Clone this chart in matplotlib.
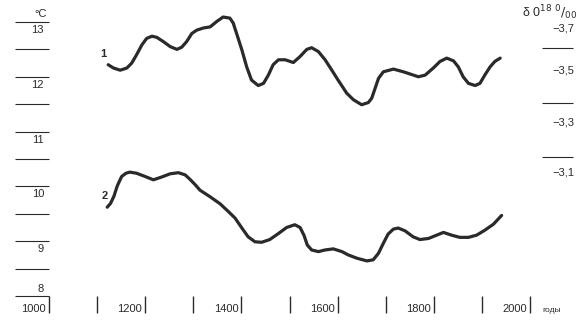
import matplotlib.pyplot as plt

# curve 1 (upper) and curve 2 (lower)
years1 = [1123, 1134, 1148, 1162, 1172, 1182, 1193, 1203, 1214, 1224, 1238, 1252,
          1266, 1276, 1286, 1297, 1307, 1321, 1335, 1349, 1362, 1376, 1383, 1390,
          1401, 1411, 1421, 1435, 1446, 1456, 1466, 1477, 1491, 1508, 1522, 1536,
          1546, 1560, 1574, 1588, 1601, 1619, 1633, 1650, 1664, 1671, 1678, 1685,
          1695, 1716, 1737, 1768, 1782, 1799, 1813, 1827, 1841, 1851, 1861, 1872,
          1886, 1896, 1906, 1917, 1927, 1938]
temp1 = [12.22, 12.16, 12.12, 12.16, 12.25, 12.40, 12.58, 12.70, 12.74, 12.72, 12.64, 12.55,
         12.50, 12.54, 12.64, 12.79, 12.85, 12.89, 12.91, 13.01, 13.09, 13.07, 12.98, 12.79,
         12.49, 12.18, 11.94, 11.84, 11.88, 12.03, 12.22, 12.31, 12.31, 12.26, 12.37, 12.50,
         12.53, 12.46, 12.31, 12.12, 11.94, 11.70, 11.58, 11.49, 11.53, 11.61, 11.79, 11.97,
         12.09, 12.14, 12.09, 12.00, 12.03, 12.16, 12.28, 12.34, 12.29, 12.18, 12.00, 11.88,
         11.84, 11.88, 12.03, 12.18, 12.28, 12.34]

years2 = [1121, 1128, 1135, 1142, 1151, 1160, 1168, 1182, 1200, 1217, 1234, 1252,
          1269, 1283, 1293, 1304, 1314, 1335, 1356, 1373, 1387, 1401, 1414, 1428,
          1442, 1459, 1477, 1494, 1511, 1522, 1530, 1537, 1546, 1560, 1574, 1591,
          1609, 1622, 1640, 1661, 1674, 1685, 1695, 1705, 1716, 1726, 1740, 1757,
          1771, 1789, 1806, 1820, 1837, 1854, 1872, 1889, 1906, 1924, 1941]
temp2 = [9.62, 9.69, 9.82, 10.01, 10.18, 10.24, 10.26, 10.24, 10.18, 10.12, 10.17, 10.23,
         10.25, 10.21, 10.13, 10.03, 9.93, 9.81, 9.68, 9.54, 9.42, 9.24, 9.08, 8.99,
         8.98, 9.03, 9.14, 9.25, 9.30, 9.25, 9.11, 8.93, 8.84, 8.81, 8.84, 8.86,
         8.81, 8.75, 8.69, 8.64, 8.66, 8.78, 8.96, 9.13, 9.22, 9.24, 9.19, 9.08,
         9.03, 9.05, 9.11, 9.16, 9.11, 9.07, 9.07, 9.11, 9.20, 9.31, 9.47]

temp_ticks = [8, 9, 10, 11, 12, 13]
temp_half = [8.5, 9.5, 10.5, 11.5, 12.5]
delta_lines = [-3.7, -3.6, -3.5, -3.4, -3.3, -3.2]
delta_ticks = [-3.7, -3.5, -3.3, -3.1]
year_ticks = list(range(1000, 2001, 100))
year_labels = [1000, 1200, 1400, 1600, 1800, 2000]

plt.rcParams['font.family'] = ['Liberation Sans', 'DejaVu Sans']
ink = '#2a2a2a'
W, H = 588, 327

fig = plt.figure(figsize=(5.88, 3.27), dpi=100)
ax = fig.add_axes([49 / W, 31 / H, 481 / W, 285 / H])
ax.set_xlim(1000, 2000)
ax.set_ylim(8, 13.2)
for s in ax.spines.values():
    s.set_visible(False)

ax.set_xticks(year_ticks)
ax.set_yticks(temp_ticks)
ax.set_yticks(temp_half, minor=True)
ax.tick_params(axis='x', direction='out', length=12.2, width=1.0, color=ink, labelbottom=False)
ax.tick_params(axis='y', which='both', direction='out', length=24.5, width=0.8,
               color=ink, labelleft=False)

# left scale labels sit under their lines (8 sits above)
for t in temp_ticks:
    dy = 7 if t == 8 else -8
    ax.annotate(str(t), xy=(0, t), xycoords=ax.get_yaxis_transform(),
                xytext=(-5, dy), textcoords='offset pixels',
                ha='right', va='center', fontsize=8, color=ink)
ax.annotate('°C', xy=(0, 13), xycoords=ax.get_yaxis_transform(),
            xytext=(-2, 8), textcoords='offset pixels',
            ha='right', va='center', fontsize=8, color=ink)

for yr in year_labels:
    ax.annotate(str(yr), xy=(yr, 0), xycoords=ax.get_xaxis_transform(),
                xytext=(-3, -13), textcoords='offset pixels',
                ha='right', va='center', fontsize=8, color=ink)
ax.annotate('годы', xy=(1, 0), xycoords='axes fraction',
            xytext=(12, -14), textcoords='offset pixels',
            ha='left', va='center', fontsize=6, color=ink)

# right scale
ax2 = fig.add_axes([49 / W, 31 / H, 493 / W, 285 / H])
ax2.patch.set_visible(False)
for s in ax2.spines.values():
    s.set_visible(False)
ax2.set_xticks([])
ax2.set_ylim(-2.689, -3.737)
ax2.yaxis.tick_right()
ax2.set_yticks(delta_ticks)
ax2.set_yticks(delta_lines, minor=True)
ax2.tick_params(axis='y', which='major', length=0, labelright=False)
ax2.tick_params(axis='y', which='minor', direction='out', length=22.3, width=0.8, color=ink)
for v, dy in zip(delta_ticks, [-7, 5, 7, 12]):
    ax2.annotate(('−%.1f' % abs(v)).replace('.', ','), xy=(1, v),
                 xycoords=ax2.get_yaxis_transform(),
                 xytext=(32, dy), textcoords='offset pixels',
                 ha='right', va='center', fontsize=8, color=ink)
ax2.annotate(r'δ 0$^{18}$ $^{0}/_{00}$', xy=(1, -3.7), xycoords=ax2.get_yaxis_transform(),
             xytext=(35, 8), textcoords='offset pixels',
             ha='right', va='center', fontsize=9, color=ink)

ax.plot(years1, temp1, color=ink, lw=2.3, solid_joinstyle='round', solid_capstyle='round')
ax.plot(years2, temp2, color=ink, lw=2.3, solid_joinstyle='round', solid_capstyle='round')
ax.annotate('1', xy=(years1[0], temp1[0]), xytext=(-5, 11), textcoords='offset pixels',
            ha='center', va='center', fontsize=8, fontweight='bold', color=ink)
ax.annotate('2', xy=(years2[0], temp2[0]), xytext=(-2, 11), textcoords='offset pixels',
            ha='center', va='center', fontsize=8, fontweight='bold', color=ink)

fig.savefig('out.png', dpi=100)
